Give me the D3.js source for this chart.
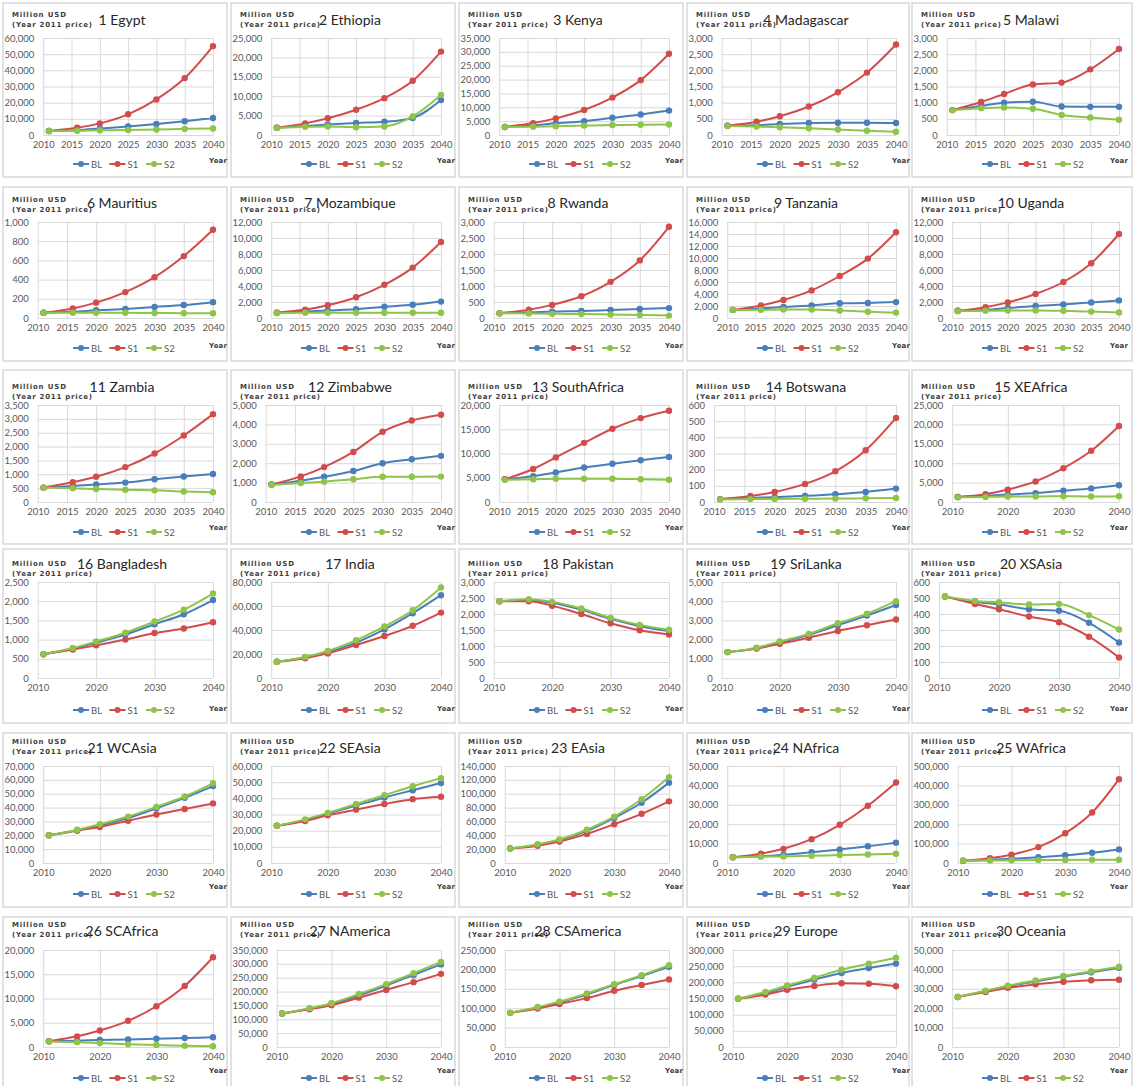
<!DOCTYPE html>
<html>
<head>
<meta charset="utf-8">
<script src="https://d3js.org/d3.v7.min.js"></script>
<style>
  body { margin: 0; background: #fff; }
  text { font-family: Lato, "Liberation Sans", sans-serif; }
  .grid line { stroke: #d9d9d9; stroke-width: 1; }
  .grid path { display: none; }
  .lbl text { fill: #595959; font-size: 9.5px; }
  .lbl path, .lbl line { display: none; }
</style>
</head>
<body>
<svg class="chart" width="1136" height="1086"></svg>
<script>
// data
var years = [2011, 2016, 2020, 2025, 2030, 2035, 2040]
var seriesNames = ["BL", "S1", "S2"]
var titles = ["1 Egypt", "2 Ethiopia", "3 Kenya", "4 Madagascar", "5 Malawi",
  "6 Mauritius", "7 Mozambique", "8 Rwanda", "9 Tanzania", "10 Uganda",
  "11 Zambia", "12 Zimbabwe", "13 SouthAfrica", "14 Botswana", "15 XEAfrica",
  "16 Bangladesh", "17 India", "18 Pakistan", "19 SriLanka", "20 XSAsia",
  "21 WCAsia", "22 SEAsia", "23 EAsia", "24 NAfrica", "25 WAfrica",
  "26 SCAfrica", "27 NAmerica", "28 CSAmerica", "29 Europe", "30 Oceania"]
var yMax = [60000, 25000, 35000, 3000, 3000,
  1000, 12000, 3000, 16000, 12000,
  3500, 5000, 20000, 600, 25000,
  2500, 80000, 3000, 5000, 600,
  70000, 60000, 140000, 50000, 500000,
  20000, 350000, 250000, 300000, 50000]
var yStep = [10000, 5000, 5000, 500, 500,
  200, 2000, 500, 2000, 2000,
  500, 1000, 5000, 100, 5000,
  500, 20000, 500, 1000, 100,
  10000, 10000, 20000, 10000, 100000,
  5000, 50000, 50000, 50000, 10000]

var blValues = [
  [2500, 3000, 4000, 5300, 6800, 8500, 10500],
  [1900, 2300, 2700, 3100, 3400, 4400, 9000],
  [2900, 3500, 4200, 5000, 6200, 7400, 8800],
  [290, 300, 340, 370, 380, 380, 370],
  [770, 900, 1000, 1030, 880, 870, 870],
  [55, 65, 80, 95, 115, 135, 165],
  [650, 800, 950, 1100, 1400, 1650, 2050],
  [150, 170, 200, 220, 250, 280, 310],
  [1350, 1600, 1850, 2100, 2450, 2500, 2650],
  [900, 1000, 1250, 1500, 1700, 1950, 2200],
  [520, 580, 630, 700, 820, 920, 1010],
  [900, 1100, 1300, 1600, 2000, 2200, 2380],
  [4700, 5300, 6100, 7100, 7900, 8600, 9300],
  [18, 25, 30, 38, 48, 62, 83],
  [1300, 1600, 1900, 2300, 2900, 3500, 4300],
  [620, 760, 920, 1130, 1400, 1660, 2030],
  [13500, 17000, 21500, 29500, 40500, 54000, 69000],
  [2400, 2430, 2350, 2130, 1850, 1620, 1470],
  [1350, 1550, 1850, 2250, 2750, 3250, 3800],
  [510, 475, 460, 430, 420, 345, 222],
  [20000, 23500, 27000, 32500, 39500, 47000, 55500],
  [23000, 26500, 30500, 35500, 40500, 45000, 49500],
  [21000, 26000, 33000, 46000, 65000, 87000, 116000],
  [3000, 3500, 4300, 5600, 7000, 8600, 10500],
  [12000, 16000, 22000, 30000, 40000, 53000, 70000],
  [1200, 1300, 1450, 1550, 1700, 1850, 2000],
  [121000, 138000, 156000, 186000, 222000, 260000, 298000],
  [88000, 101000, 115000, 135000, 160000, 183000, 207000],
  [149000, 167000, 186000, 209000, 229000, 244000, 258000],
  [25800, 28800, 31300, 33800, 36300, 38500, 40800]
]
var s1Values = [
  [2500, 4500, 7200, 12800, 22000, 35200, 55000],
  [1900, 3000, 4300, 6500, 9500, 14000, 21500],
  [2900, 4300, 6000, 9000, 13500, 19800, 29300],
  [290, 410, 580, 880, 1320, 1930, 2800],
  [770, 1020, 1270, 1560, 1620, 2030, 2660],
  [55, 100, 160, 270, 425, 645, 920],
  [650, 1050, 1600, 2600, 4150, 6300, 9500],
  [150, 260, 410, 680, 1130, 1800, 2850],
  [1350, 2100, 3000, 4600, 7000, 9900, 14300],
  [900, 1350, 1950, 3000, 4500, 6850, 10500],
  [520, 710, 910, 1260, 1750, 2400, 3170],
  [900, 1320, 1800, 2580, 3620, 4200, 4500],
  [4700, 6800, 9200, 12200, 15100, 17300, 18800],
  [18, 37, 62, 112, 190, 320, 520],
  [1300, 2000, 3200, 5300, 8700, 13200, 19600],
  [620, 740, 850, 1000, 1170, 1290, 1450],
  [13500, 16500, 20500, 27500, 35000, 43500, 54500],
  [2400, 2400, 2260, 2000, 1710, 1490, 1360],
  [1350, 1530, 1780, 2100, 2450, 2750, 3050],
  [510, 462, 430, 384, 348, 258, 128],
  [20000, 23500, 26000, 30500, 35000, 39000, 43000],
  [23000, 26000, 29500, 33000, 36500, 39500, 41000],
  [21000, 25000, 31000, 42000, 56000, 71000, 89000],
  [3000, 4800, 7300, 12300, 19700, 29500, 41500],
  [12000, 25000, 43000, 82000, 153000, 260000, 432000],
  [1200, 2200, 3400, 5400, 8400, 12600, 18500],
  [121000, 136000, 151000, 178000, 206000, 234000, 264000],
  [88000, 99000, 111000, 126000, 145000, 160000, 174000],
  [149000, 162000, 177000, 189000, 197000, 196000, 188000],
  [25800, 28300, 30500, 32300, 33600, 34400, 34700]
]
var s2Values = [
  [2500, 2600, 2900, 3100, 3400, 3800, 4000],
  [1800, 2100, 2200, 2000, 2200, 4800, 10300],
  [2900, 3000, 3200, 3400, 3600, 3700, 3800],
  [280, 260, 240, 210, 170, 130, 100],
  [770, 830, 850, 810, 620, 540, 470],
  [55, 55, 55, 55, 52, 50, 50],
  [600, 650, 650, 650, 650, 650, 650],
  [150, 140, 130, 125, 110, 95, 75],
  [1350, 1350, 1400, 1400, 1250, 1050, 900],
  [850, 900, 950, 950, 900, 800, 700],
  [510, 500, 470, 440, 420, 380, 350],
  [880, 980, 1050, 1170, 1300, 1300, 1310],
  [4600, 4700, 4800, 4800, 4800, 4700, 4600],
  [16, 18, 19, 20, 21, 23, 25],
  [1200, 1300, 1400, 1400, 1500, 1400, 1500],
  [620, 780, 950, 1180, 1470, 1780, 2200],
  [13500, 17500, 22500, 31500, 43000, 56500, 75500],
  [2400, 2460, 2380, 2170, 1880, 1660, 1510],
  [1350, 1580, 1900, 2300, 2850, 3350, 4000],
  [510, 482, 473, 459, 463, 393, 303],
  [20000, 24000, 28000, 33500, 40500, 48000, 57500],
  [23000, 27000, 31000, 36500, 42000, 47500, 52500],
  [21000, 27000, 34000, 48000, 67000, 92000, 124000],
  [2900, 3200, 3400, 3700, 4100, 4400, 4800],
  [12000, 13000, 14000, 15000, 16000, 17000, 17000],
  [1150, 1000, 800, 550, 400, 250, 150],
  [121000, 140000, 158000, 191000, 227000, 266000, 307000],
  [88000, 103000, 117000, 138000, 162000, 185000, 211000],
  [149000, 170000, 190000, 214000, 239000, 258000, 276000],
  [25800, 29000, 31600, 34300, 36600, 39000, 41400]
]

// layout
var colors = ["#4a7ebb", "#d34c4c", "#8fc44a"]
var colLeft = [3, 231, 459, 687, 912]
var colWidth = [224, 224, 224, 222, 220]
var colRight = [210, 210, 210, 209, 207]
var colYear = [206, 206, 206, 205, 198]
var rowTop = [3, 187, 370, 549, 733, 917]
var plotTop = [35, 35, 35, 33, 33, 33]
var plotBottom = [132, 131, 132, 129, 130, 130]
var headerY = [14, 15, 19, 17, 11, 10]
var titleDy = [6, 4, 1, 1, 7, 7]
var yearY = [160, 161, 160, 162, 156, 156]
var legendY = [161, 161, 162, 161, 161, 161]
var panelH = 174

var svg = d3.select("svg")
var fmt = d3.format(",")

titles.forEach(function(title, i) {
  var r = Math.floor(i / 5), c = i % 5
  var g = svg.append("g").attr("transform", "translate(" + colLeft[c] + "," + rowTop[r] + ")")

  g.append("rect")
    .attr("width", colWidth[c]).attr("height", panelH)
    .attr("fill", "none").attr("stroke", "#d9d9d9").attr("stroke-width", 1.5)

  var yTicks = d3.range(0, yMax[i] + yStep[i] / 2, yStep[i])
  var xTicks = i < 14 ? d3.range(2010, 2041, 5) : d3.range(2010, 2041, 10)

  var y = d3.scaleLinear().domain([0, yMax[i]]).range([plotBottom[r], plotTop[r]])

  // y labels first, to size the plot area
  var yAxisG = g.append("g").attr("class", "lbl")
    .call(d3.axisLeft(y).tickValues(yTicks).tickFormat(fmt).tickSize(0).tickPadding(9))
  var labW = yAxisG.node().getBBox().width - 9
  var left = 10 + labW + 9
  var right = colRight[c]
  yAxisG.attr("transform", "translate(" + left + ",0)")

  var x = d3.scaleLinear().domain([2010, 2040]).range([left, right])

  g.append("g").attr("class", "grid")
    .attr("transform", "translate(" + left + ",0)")
    .call(d3.axisLeft(y).tickValues(yTicks).tickFormat("").tickSize(-(right - left)))
  g.append("g").attr("class", "grid")
    .attr("transform", "translate(0," + plotBottom[r] + ")")
    .call(d3.axisBottom(x).tickValues(xTicks).tickFormat("").tickSize(-(plotBottom[r] - plotTop[r])))

  g.append("g").attr("class", "lbl")
    .attr("transform", "translate(0," + plotBottom[r] + ")")
    .call(d3.axisBottom(x).tickValues(xTicks).tickFormat(d3.format("d")).tickSize(0).tickPadding(6))

  var line = d3.line()
    .x(function(d, k) { return x(years[k]) })
    .y(function(d) { return y(d) })
    .curve(d3.curveMonotoneX)

  var series = [blValues[i], s1Values[i], s2Values[i]]
  series.forEach(function(vals, s) {
    g.append("path").attr("d", line(vals))
      .attr("fill", "none").attr("stroke", colors[s]).attr("stroke-width", 2)
    g.selectAll(".pt" + s).data(vals).enter().append("circle")
      .attr("cx", function(d, k) { return x(years[k]) })
      .attr("cy", function(d) { return y(d) })
      .attr("r", 3.2).attr("fill", colors[s])
  })

  // header
  g.append("text").attr("x", 9).attr("y", headerY[r])
    .attr("textLength", 54).attr("lengthAdjust", "spacing")
    .style("font-family", "DejaVu Sans").style("font-size", "7px").style("font-weight", "bold")
    .attr("fill", "#404040").text("Million USD")
  g.append("text").attr("x", 9).attr("y", headerY[r] + 10)
    .attr("textLength", 80).attr("lengthAdjust", "spacing")
    .style("font-family", "DejaVu Sans").style("font-size", "7px").style("font-weight", "bold")
    .attr("fill", "#404040").text("(Year 2011 price)")
  g.append("text").attr("x", 119).attr("y", headerY[r] + titleDy[r] + 2)
    .attr("text-anchor", "middle").style("font-size", "14px")
    .attr("fill", "#262626").text(title)

  g.append("text").attr("x", colYear[c]).attr("y", yearY[r])
    .attr("textLength", 18).attr("lengthAdjust", "spacing")
    .style("font-family", "DejaVu Sans").style("font-size", "7px").style("font-weight", "bold")
    .attr("fill", "#404040").text("Year")

  // legend
  seriesNames.forEach(function(name, s) {
    var lx = 70 + s * 36.5
    var ly = legendY[r]
    g.append("line").attr("x1", lx).attr("x2", lx + 16).attr("y1", ly).attr("y2", ly)
      .attr("stroke", colors[s]).attr("stroke-width", 2)
    g.append("circle").attr("cx", lx + 8).attr("cy", ly).attr("r", 3).attr("fill", colors[s])
    g.append("text").attr("x", lx + 18).attr("y", ly + 3.5)
      .style("font-size", "9.5px").attr("fill", "#595959").text(name)
  })
})
</script>
</body>
</html>
